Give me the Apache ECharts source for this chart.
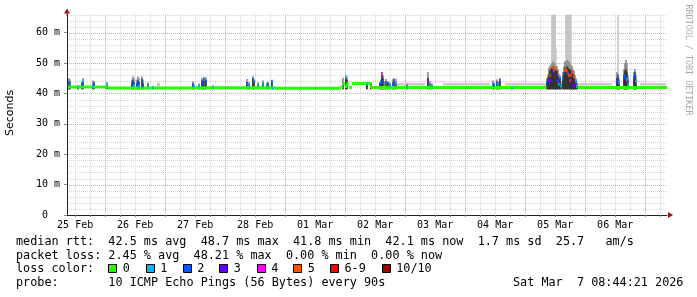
<!DOCTYPE html>
<html><head><meta charset="utf-8">
<script src="https://cdn.jsdelivr.net/npm/echarts@6/dist/echarts.min.js"></script>
<style>html,body{margin:0;padding:0;background:#fff}#c{width:697px;height:297px}</style>
</head><body><div id="c"></div>
<script>
// ---- axis data (x in hours since 25 Feb 00:00, y in ms) ----
const T_START = 8.7336, T_END = 248.7336;   // 25 Feb 08:44:21 .. 07 Mar 08:44:21
const Y_MAX = 66;
const dayLabels = ['25 Feb','26 Feb','27 Feb','28 Feb','01 Mar','02 Mar','03 Mar','04 Mar','05 Mar','06 Mar'];
const dayLabelHours = [12,36,60,84,108,132,156,180,204,228];
const yLabelValues = [0,10,20,30,40,50,60];
const smokeFloor = 41.4;

// ---- median (loss 0) line segments ----
const greenStart = [8.73, 25.1, 57.9, 91.9, 118.3, 119.1, 119.9, 120.7, 121.5, 122.7, 130.3, 213.1];
const greenEnd   = [25.1, 57.9, 91.9, 118.3, 119.1, 119.9, 120.7, 121.5, 122.7, 130.3, 200.5, 248.73];
const greenValue = [42.1, 41.8, 41.9, 41.7, 42.2, 43.2, 42.3, 43.0, 42.0, 43.3, 42.0, 42.0];

// ---- light smoke bands near baseline ----
const bandStart = [44.7, 140.7, 159.1, 183.9, 213.1, 237.9];
const bandEnd   = [45.9, 151.9, 177.9, 200.7, 226.7, 248.3];
const bandLo    = [42.3, 42.6, 42.6, 42.6, 42.6, 42.6];
const bandHi    = [43.5, 43.4, 43.4, 43.4, 43.4, 43.4];

// ---- spikes: time, max ping, upper smoke, core smoke, median, lost pings ----
const spikeT     = [9.5,9.9,13.1,14.7,15.1,19.1,19.5,24.7,34.7,35.1,35.5,36.7,37.1,37.5,38.7,39.1,41.1,43.1,
  59.1,59.5,61.5,62.7,63.1,63.5,64.3,67.1,80.7,81.5,83.1,83.5,85.1,87.1,88.7,89.1,90.7,91.1,
  119.1,120.3,120.7,128.7,130.3,133.9,134.3,134.7,135.1,135.9,136.3,137.1,137.9,139.1,139.5,140.3,144.7,153.1,153.9,154.7,
  179.1,179.5,180.7,181.1,181.9,186.7,
  200.7,201.1,201.5,201.9,202.3,202.7,203.1,203.5,203.9,204.3,204.7,205.1,205.5,205.9,206.3,
  207.1,207.5,207.9,208.3,208.7,209.1,209.5,209.9,210.3,210.7,211.1,211.5,211.9,212.3,212.7,
  228.7,229.1,229.5,231.5,231.9,232.3,232.7,233.1,235.5,235.9,236.3];
const spikeMax   = [45.0,44.6,42.6,44.0,45.0,44.3,44.0,43.6,44.5,45.6,45.0,44.5,45.5,45.0,45.6,44.6,43.6,42.5,
  44.0,43.0,43.3,45.0,44.6,45.2,45.3,42.5,44.8,43.8,45.6,44.8,43.6,44.3,43.5,43.8,44.3,42.0,
  45.2,45.6,45.6,43.5,43.5,43.6,44.5,47.0,46.0,44.0,44.8,44.0,43.6,44.6,45.0,44.8,43.3,47.0,44.0,43.3,
  44.3,43.5,44.6,44.0,45.0,42.3,
  45.0,46.0,48.5,49.0,49.5,66,66,66,66,55,49.0,48.0,46.5,46.0,44.0,
  47.0,49.0,50.5,66,66,66,66,66,66,49.0,48.0,47.5,46.0,45.0,43.5,
  47.0,66,45.0,48.0,50.0,51.0,50.0,46.0,47.0,48.0,46.0];
const spikeUpper = [45.0,44.6,42.6,44.0,45.0,44.3,44.0,43.6,44.5,45.6,45.0,44.5,45.5,45.0,45.6,44.6,43.6,42.5,
  44.0,43.0,43.3,45.0,44.6,45.2,45.3,42.5,44.8,43.8,45.6,44.8,43.6,44.3,43.5,43.8,44.3,42.0,
  45.2,45.6,45.6,43.5,43.5,43.6,44.5,47.0,46.0,44.0,44.8,44.0,43.6,44.6,45.0,44.8,43.3,47.0,44.0,43.3,
  44.3,43.5,44.6,44.0,45.0,42.3,
  45.0,46.0,48.5,49.0,49.5,50.0,50.5,50.0,50.0,49.0,49.0,48.0,46.5,46.0,44.0,
  47.0,49.0,50.5,50.5,51.0,50.8,50.5,50.0,49.5,49.0,48.0,47.5,46.0,45.0,43.5,
  47.0,46.5,45.0,48.0,50.0,51.0,50.0,46.0,47.0,48.0,46.0];
const spikeCore  = [43.5,43.8,42.4,43.2,44.0,43.0,43.2,42.8,43.5,44.3,43.6,43.3,44.3,43.8,44.6,43.3,43.0,42.2,
  43.3,42.6,42.6,44.2,43.8,44.3,44.0,42.2,43.8,43.0,44.6,43.8,43.0,43.5,42.8,43.0,43.6,41.8,
  43.8,45.0,44.5,43.4,43.0,43.0,43.5,46.0,45.0,43.0,43.8,43.5,43.0,43.5,44.0,43.8,42.6,45.0,43.3,42.6,
  43.5,43.0,43.8,43.3,44.0,42.1,
  44.0,45.0,46.5,47.5,48.0,48.5,49.0,48.5,48.0,47.5,47.5,46.0,45.0,45.0,43.0,
  45.5,47.0,48.5,48.5,49.0,48.5,48.0,48.0,47.5,47.5,46.5,46.0,44.5,44.0,42.8,
  45.0,45.5,44.0,46.0,47.5,48.0,47.0,44.5,45.5,47.0,44.5];
const spikeMedian = [43.5,42.8,42.2,43.0,44.0,42.4,43.2,43.1,43.0,44.0,42.6,43.0,43.5,42.5,44.3,42.5,42.8,42.0,
  42.6,42.3,42.5,43.8,43.2,44.8,44.0,42.2,43.2,42.5,44.8,43.8,43.0,43.2,42.8,43.0,44.0,41.7,
  43.2,45.5,43.0,43.3,42.3,43.0,43.5,46.6,44.0,42.5,43.5,43.2,42.6,43.0,44.3,43.3,42.0,44.5,42.6,42.5,
  43.0,42.8,43.5,43.0,44.3,42.0,
  43.5,44.0,44.3,46.0,44.3,47.0,48.5,47.5,48.5,46.0,44.3,44.0,43.0,44.8,42.5,
  45.0,46.5,47.5,48.1,47.5,46.5,46.0,44.3,46.0,46.9,42.8,45.5,42.6,44.0,42.3,
  44.0,45.5,43.5,45.0,45.9,45.3,44.5,43.0,45.0,46.0,44.0];
const spikeLoss  = [2,1,1,2,1,1,2,1,2,2,1,2,2,1,2,2,1,1,
  2,1,1,2,2,2,2,1,2,1,2,2,1,1,1,2,2,1,
  0,1,0,1,0,2,2,4,2,0,2,2,1,2,2,1,1,3,1,1,
  1,2,2,1,2,1,
  2,3,3,5,3,3,5,5,5,3,3,2,1,2,1,
  2,2,5,5,5,4,5,4,5,5,3,5,3,1,1,
  2,2,1,2,2,2,1,1,2,2,1];

// ---- legend ----
const lossLabels = ['0','1','2','3','4','5','6-9','10/10'];
const lossColors = ['#26ff00','#00b8ff','#0059ff','#5e00ff','#ff00ff','#ff5500','#ff0000','#a00000'];
const statLines = [
  'median rtt:  42.5 ms avg  48.7 ms max  41.8 ms min  42.1 ms now  1.7 ms sd  25.7   am/s',
  'packet loss: 2.45 % avg  48.21 % max  0.00 % min  0.00 % now'
];
const probeText = 'probe:       10 ICMP Echo Pings (56 Bytes) every 90s';
const stampText = 'Sat Mar  7 08:44:21 2026';

// ---------------------------------------------------------------
const MONO = 'DejaVu Sans Mono';
const STEP = 0.6; // smoke sample width in hours
function lossClass(n){ return n >= 10 ? 7 : (n >= 6 ? 6 : n); }

const minorX = [], majorX = [];
for (let h = 12; h < T_END; h += 6) { (h % 24 === 0 ? majorX : minorX).push(h); }
const minorY = [], majorY = [];
for (let v = 2; v <= Y_MAX; v += 2) { (v % 10 === 0 ? majorY : minorY).push(v); }

const MINOR_C = '#d6d6d6';
const MAJOR_C = '#f29a9a';
function crisp(v){ return Math.round(v) + 0.5; }

function vLine(color){
  return function(params, api){
    const v = api.value(0);
    const p0 = api.coord([v, 0]), p1 = api.coord([v, Y_MAX]); const x = crisp(p0[0]);
    return {type:'line', shape:{x1:x, y1:p0[1], x2:x, y2:p1[1]}, style:{stroke:color, lineWidth:1, lineDash:[1,1]}};
  };
}
function hLine(color){
  return function(params, api){
    const v = api.value(1);
    const a = api.coord([T_START, v]), b = api.coord([T_END, v]); const y = crisp(a[1]);
    return {type:'line', shape:{x1:a[0], y1:y, x2:b[0], y2:y}, style:{stroke:color, lineWidth:1, lineDash:[1,1]}};
  };
}
function spanRect(color){
  return function(params, api){
    const a = api.coord([api.value(0), api.value(3)]);
    const b = api.coord([api.value(1), api.value(2)]);
    return {type:'rect', shape:{x:a[0], y:a[1], width:b[0]-a[0], height:b[1]-a[1]}, style:{fill:color}};
  };
}
function smokeRect(color){
  return function(params, api){
    const t = api.value(0);
    const a = api.coord([t - STEP/2, api.value(2)]);
    const b = api.coord([t + STEP/2, api.value(1)]);
    return {type:'rect', shape:{x:a[0], y:a[1], width:b[0]-a[0], height:b[1]-a[1]}, style:{fill:color}};
  };
}

const greenData = greenStart.map((s,i)=>[s, greenEnd[i], greenValue[i]]);
const bandData = bandStart.map((s,i)=>[s, bandEnd[i], bandLo[i], bandHi[i]]);
const maxData = spikeT.map((t,i)=>[t, smokeFloor, spikeMax[i]]);
const upperData = spikeT.map((t,i)=>[t, smokeFloor, spikeUpper[i]]);
const coreData = spikeT.map((t,i)=>[t, smokeFloor, spikeCore[i]]);
const medData = spikeT.map((t,i)=>[t, spikeMedian[i], spikeLoss[i]]);

const chart = echarts.init(document.getElementById('c'), null, {renderer:'canvas'});
const option = {
  animation:false,
  backgroundColor:'#ffffff',
  grid:{left:67, right:30, top:14.5, bottom:82, containLabel:false},
  xAxis:{type:'value', min:T_START, max:T_END, z:10,
    splitLine:{show:false},
    axisLine:{show:true, lineStyle:{color:'#222', width:1}},
    axisTick:{show:true, length:2, lineStyle:{color:'#888'}, customValues: minorX.concat(majorX)},
    axisLabel:{show:true, customValues: dayLabelHours, margin:5, color:'#000', fontFamily:MONO, fontSize:10,
      formatter:function(v){ const i = dayLabelHours.indexOf(Math.round(v)); return i>=0 ? dayLabels[i] : ''; }}
  },
  yAxis:{type:'value', min:0, max:Y_MAX, z:10,
    splitLine:{show:false},
    axisLine:{show:true, lineStyle:{color:'#222', width:1}},
    axisTick:{show:true, length:3, lineStyle:{color:'#888'}, customValues: yLabelValues},
    axisLabel:{show:true, customValues: yLabelValues, margin:7, color:'#000', fontFamily:MONO, fontSize:10,
      formatter:function(v){ return v === 0 ? '0  ' : v + ' m'; }}
  },
  series:[
    {type:'custom', silent:true, z:1, data:minorX.map(v=>[v]), encode:{x:0}, renderItem:vLine(MINOR_C)},
    {type:'custom', silent:true, z:1, data:minorY.map(v=>[T_START,v]), encode:{x:0,y:1}, renderItem:hLine(MINOR_C)},
    {type:'custom', silent:true, z:1, data:majorX.map(v=>[v]), encode:{x:0}, renderItem:vLine(MAJOR_C)},
    {type:'custom', silent:true, z:1, data:majorY.map(v=>[T_START,v]), encode:{x:0,y:1}, renderItem:hLine(MAJOR_C)},
    {type:'custom', silent:true, z:2, clip:true, data:bandData, encode:{x:[0,1], y:[2,3]}, renderItem:spanRect('#c4c4c4')},
    {type:'custom', silent:true, z:3, clip:true, data:maxData, encode:{x:0, y:[1,2]}, renderItem:smokeRect('#c2c2c2')},
    {type:'custom', silent:true, z:4, clip:true, data:upperData, encode:{x:0, y:[1,2]}, renderItem:smokeRect('#8c8c8c')},
    {type:'custom', silent:true, z:5, clip:true, data:coreData, encode:{x:0, y:[1,2]}, renderItem:smokeRect('#2e2e2e')},
    {type:'custom', silent:true, z:6, clip:true, data:greenData, encode:{x:[0,1], y:2}, renderItem:function(p,api){
      const a = api.coord([api.value(0), api.value(2)]); const b = api.coord([api.value(1), api.value(2)]);
      return {type:'rect', shape:{x:a[0], y:a[1]-1.5, width:b[0]-a[0], height:3}, style:{fill:lossColors[0]}}; }},
    {type:'custom', silent:true, z:7, clip:true, data:medData, encode:{x:0, y:1}, renderItem:function(p,api){
      const t = api.value(0), v = api.value(1);
      const a = api.coord([t - STEP/2, v]); const b = api.coord([t + STEP/2, v]);
      return {type:'rect', shape:{x:a[0], y:a[1]-1.5, width:Math.max(1.5, b[0]-a[0]), height:3},
        style:{fill:lossColors[lossClass(api.value(2))]}}; }}
  ]
};
chart.setOption(option);

// ---- decorations: arrows, titles, legend text ----
const origin = chart.convertToPixel({gridIndex:0}, [T_END, 0]);
const topPt = chart.convertToPixel({gridIndex:0}, [T_START, Y_MAX]);
const g = [];
g.push({type:'polygon', z:20, shape:{points:[[origin[0]+1, origin[1]-3],[origin[0]+1, origin[1]+3],[origin[0]+6, origin[1]]]}, style:{fill:'#9a1515'}});
g.push({type:'line', z:20, shape:{x1:topPt[0], y1:topPt[1]-1, x2:topPt[0], y2:topPt[1]+1}, style:{stroke:'#222', lineWidth:1}});
g.push({type:'polygon', z:20, shape:{points:[[topPt[0]-3, topPt[1]-1],[topPt[0]+3, topPt[1]-1],[topPt[0], topPt[1]-6]]}, style:{fill:'#9a1515'}});
g.push({type:'text', z:20, x:10, y:113, rotation:Math.PI/2, style:{text:'Seconds', font:'11px "DejaVu Sans"', fill:'#000', align:'center', verticalAlign:'middle'}});
g.push({type:'text', z:20, x:688, y:60, rotation:-Math.PI/2, style:{text:'RRDTOOL / TOBI OETIKER', font:'8.4px "DejaVu Sans Mono"', fill:'#a8a8a8', align:'center', verticalAlign:'middle'}});
const legFont = '11.8px "DejaVu Sans Mono"';
g.push({type:'text', z:20, x:16, y:242, style:{text:statLines[0], font:legFont, fill:'#000', verticalAlign:'middle'}});
g.push({type:'text', z:20, x:16, y:255.5, style:{text:statLines[1], font:legFont, fill:'#000', verticalAlign:'middle'}});
g.push({type:'text', z:20, x:16, y:269, style:{text:'loss color:', font:legFont, fill:'#000', verticalAlign:'middle'}});
const boxX = [108.3, 145.7, 182.7, 219.3, 256.7, 293.3, 330, 381.7];
lossLabels.forEach((lab,i)=>{
  g.push({type:'rect', z:20, shape:{x:Math.round(boxX[i])+0.5, y:264.5, width:8, height:8}, style:{fill:lossColors[i], stroke:'#000', lineWidth:1}});
  g.push({type:'text', z:20, x:boxX[i]+14.5, y:269, style:{text:lab, font:legFont, fill:'#000', verticalAlign:'middle'}});
});
g.push({type:'text', z:20, x:16, y:283, style:{text:probeText, font:legFont, fill:'#000', verticalAlign:'middle'}});
g.push({type:'text', z:20, x:513, y:283, style:{text:stampText, font:legFont, fill:'#000', verticalAlign:'middle'}});
chart.setOption({graphic:g});
</script></body></html>
